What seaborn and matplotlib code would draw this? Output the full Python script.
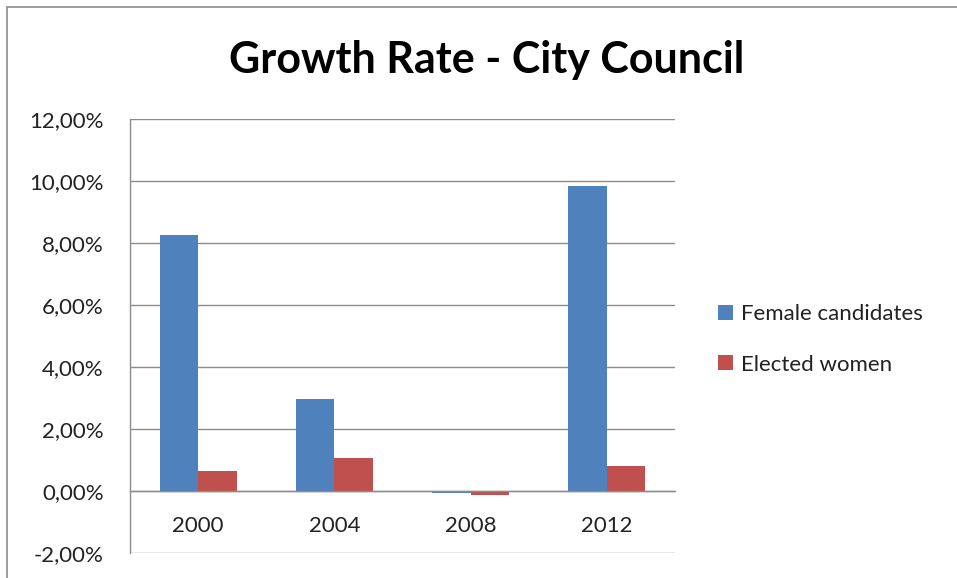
import matplotlib
matplotlib.use("Agg")
import matplotlib.pyplot as plt
from matplotlib.patches import Rectangle
from matplotlib.ticker import FuncFormatter, MultipleLocator
import seaborn as sns
import pandas as pd

# Growth rate of women in city council elections (percent)
years = ["2000", "2004", "2008", "2012"]
female_candidates = [8.27, 2.98, -0.05, 9.84]
elected_women = [0.63, 1.05, -0.14, 0.81]
series_names = ["Female candidates", "Elected women"]
colors = ["#4F81BD", "#C0504D"]

df = pd.DataFrame({
    "Year": years * 2,
    "Rate": female_candidates + elected_women,
    "Series": [series_names[0]] * len(years) + [series_names[1]] * len(years),
})

sns.set_theme(style="white")
plt.rcParams["font.family"] = ["Lato", "DejaVu Sans"]

fig = plt.figure(figsize=(9.57, 5.78), dpi=100)
ax = fig.add_axes([130 / 957, 1 - 553 / 578, 545 / 957, 434 / 578])

sns.barplot(data=df, x="Year", y="Rate", hue="Series", order=years,
            hue_order=series_names, palette=colors, width=0.565,
            saturation=1, linewidth=0, ax=ax, legend=True)

ax.set_xlim(-0.5, len(years) - 0.5)
ax.set_ylim(-2, 12)
ax.yaxis.set_major_locator(MultipleLocator(2))
ax.yaxis.set_major_formatter(
    FuncFormatter(lambda v, _: f"{v:.2f}".replace(".", ",") + "%"))
ax.grid(axis="y", color="#8C8C8C", linewidth=1)
ax.set_axisbelow(True)
for side in ["top", "right"]:
    ax.spines[side].set_visible(False)
# category axis crosses at zero
ax.spines["bottom"].set_position(("data", 0))
for side in ["left", "bottom"]:
    ax.spines[side].set_color("#8C8C8C")
    ax.spines[side].set_linewidth(1)
ax.set_xlabel("")
ax.set_ylabel("")
ax.tick_params(axis="y", length=0, labelsize=16, colors="#222222", pad=19)
ax.tick_params(axis="x", length=0, labelsize=16, colors="#222222", pad=18)

leg = ax.legend(loc="center left", bbox_to_anchor=(1.042, 0.492), frameon=False,
                fontsize=16, handlelength=0.68, handleheight=0.68,
                handletextpad=0.36, labelspacing=1.36)
for t in leg.get_texts():
    t.set_color("#222222")

fig.text(487 / 957, 1 - 60 / 578, "Growth Rate - City Council",
         ha="center", va="center", fontsize=31, fontweight="bold",
         color="black")

# outer chart frame
fig.patches.append(Rectangle((7 / 957, -0.1), 1.2, 1.1 - 7 / 578,
                             transform=fig.transFigure, fill=False,
                             edgecolor="#8C8C8C", linewidth=1.2))

fig.savefig("out.png", dpi=100, facecolor="white")
